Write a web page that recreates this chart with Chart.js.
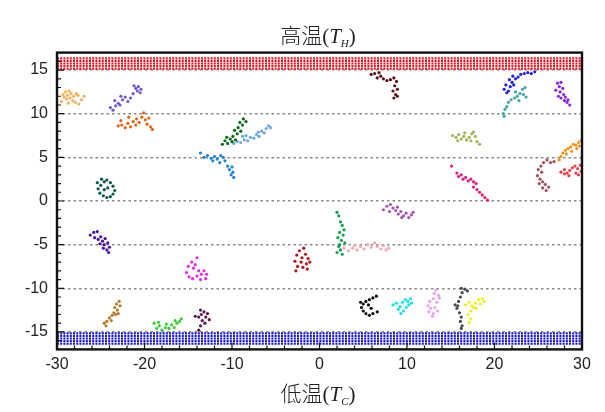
<!DOCTYPE html>
<html>
<head>
<meta charset="utf-8">
<script src="https://cdn.jsdelivr.net/npm/chart.js@4/dist/chart.umd.min.js"></script>
<style>
  html, body { margin: 0; padding: 0; background: #fff; }
  #wrap { position: relative; width: 605px; height: 412px; overflow: hidden; }
  #chart { position: absolute; left: 0; top: 0; }
  .axis-title {
    position: absolute; left: 218px; width: 200px; text-align: center;
    font-family: "Liberation Serif", "Noto Sans CJK SC", serif; font-size: 21px; color: #222;
    line-height: 24px;
  }
  .axis-title .cjk { font-family: "Noto Sans CJK SC", sans-serif; font-weight: 300; }
  .axis-title sub { font-size: 11px; font-style: italic; vertical-align: -4px; }
  #topTitle { top: 22px; }
  #bottomTitle { top: 380px; }
</style>
</head>
<body>
<div id="wrap">
  <canvas id="chart" width="605" height="412"></canvas>
  <div id="topTitle" class="axis-title"><span class="cjk">高温</span>(<i>T</i><sub>H</sub>)</div>
  <div id="bottomTitle" class="axis-title"><span class="cjk">低温</span>(<i>T</i><sub>C</sub>)</div>
</div>
<script>
// ===== DATA =====
const xTicks = [-30, -20, -10, 0, 10, 20, 30];
const yTicks = [-15, -10, -5, 0, 5, 10, 15];

// dotted bands (row heights)
const hotRows = [15.15, 15.45, 15.75, 16.05, 16.35];
const coldRows = [-15.15, -15.45, -15.75, -16.05, -16.35];

// walker trajectories, [x, y]
const tanWalk = [[-29.3,12.2],[-29.0,12.5],[-28.8,12.1],[-28.6,12.6],[-28.4,12.3],[-28.9,11.7],[-29.2,11.9],[-28.5,11.8],[-28.1,12.0],[-27.8,12.3],[-27.6,12.1],[-28.2,11.5],[-27.9,11.3],[-27.5,11.1],[-27.2,11.6],[-26.9,12.0],[-29.5,11.4],[-28.7,11.2]];
const slateWalk = [[-23.9,10.7],[-23.6,10.4],[-23.3,10.9],[-23.0,11.2],[-23.4,11.5],[-22.8,11.0],[-22.5,11.6],[-22.2,11.9],[-22.7,12.0],[-21.9,11.4],[-21.6,11.8],[-21.3,12.3],[-21.0,12.9],[-20.7,13.1],[-20.4,12.8],[-20.8,12.6],[-21.2,13.2],[-20.5,12.4]];
const orangeWalk = [[-23.0,8.6],[-22.6,8.7],[-22.7,9.2],[-22.2,8.4],[-21.9,8.9],[-21.6,8.5],[-21.3,9.1],[-21.0,8.7],[-20.9,9.4],[-20.6,9.0],[-20.3,9.6],[-20.1,10.1],[-19.9,9.3],[-19.7,8.8],[-19.5,9.5],[-19.3,8.5],[-19.1,8.2],[-21.8,9.6]];
const darkTealWalk = [[-24.9,2.5],[-24.6,2.2],[-24.3,2.4],[-23.9,2.1],[-23.6,1.7],[-23.4,1.2],[-23.6,0.8],[-23.9,0.5],[-24.3,0.4],[-24.7,0.6],[-25.1,0.9],[-25.3,1.4],[-25.0,1.8],[-24.6,1.3],[-24.2,1.5],[-25.4,2.1]];
const indigoWalk = [[-26.2,-3.9],[-25.8,-3.6],[-25.4,-3.5],[-25.7,-4.2],[-25.3,-4.4],[-25.0,-4.1],[-24.8,-4.6],[-24.5,-4.3],[-24.6,-5.0],[-24.2,-4.8],[-24.0,-5.3],[-24.3,-5.6],[-24.1,-5.9],[-24.7,-5.4],[-25.1,-4.9]];
const blueWalk = [[-13.6,5.5],[-13.2,5.0],[-12.8,5.2],[-12.4,4.9],[-12.0,5.1],[-11.7,4.8],[-11.3,5.2],[-11.0,5.0],[-10.8,4.6],[-11.4,4.4],[-10.5,4.0],[-10.3,3.6],[-10.0,3.9],[-9.9,3.3],[-10.1,3.0],[-9.8,2.7],[-12.2,4.6]];
const darkGreenWalk = [[-11.1,6.5],[-10.8,6.9],[-10.5,6.6],[-10.2,7.1],[-10.6,7.3],[-9.9,7.4],[-9.6,7.0],[-9.4,7.7],[-9.7,8.1],[-9.3,8.4],[-9.0,8.0],[-8.8,8.7],[-9.1,9.0],[-8.7,9.4],[-8.4,9.1],[-10.0,6.8]];
const skyWalk = [[-9.8,6.6],[-9.4,6.8],[-9.0,6.7],[-8.6,7.0],[-8.2,6.9],[-7.9,7.3],[-8.4,7.5],[-7.5,7.2],[-7.2,7.6],[-6.9,7.4],[-7.0,7.9],[-6.6,8.0],[-6.3,7.8],[-6.1,8.3],[-5.8,8.6],[-5.6,8.4],[-8.8,7.4]];
const magentaWalk = [[-14.0,-6.5],[-14.6,-7.0],[-15.0,-7.5],[-14.4,-7.7],[-15.2,-8.2],[-14.9,-8.7],[-14.5,-8.9],[-14.0,-8.6],[-13.8,-8.0],[-13.5,-8.4],[-13.2,-8.0],[-12.9,-8.4],[-13.0,-8.9],[-13.6,-9.0],[-14.2,-7.3]];
const ochreWalk = [[-22.9,-11.5],[-23.2,-11.8],[-22.8,-12.0],[-23.4,-12.2],[-23.1,-12.5],[-23.5,-12.8],[-23.7,-13.1],[-23.3,-13.0],[-24.0,-13.4],[-23.8,-13.7],[-24.3,-13.8],[-24.6,-14.0],[-24.4,-14.3],[-23.0,-12.9]];
const limeWalk = [[-18.9,-14.0],[-18.6,-14.6],[-18.3,-14.3],[-18.0,-14.8],[-17.6,-14.5],[-17.2,-14.6],[-16.9,-14.2],[-16.6,-14.5],[-16.3,-14.0],[-16.0,-13.8],[-15.8,-13.5],[-16.5,-13.7],[-17.5,-14.1],[-18.4,-13.9]];
const plumWalk = [[-13.6,-12.5],[-13.2,-12.7],[-12.8,-12.9],[-13.0,-13.3],[-13.5,-13.0],[-13.8,-13.3],[-14.2,-13.2],[-13.4,-13.7],[-13.1,-14.0],[-13.6,-14.3],[-13.8,-14.8],[-12.6,-13.6]];
const crimsonWalk = [[-1.8,-5.4],[-2.3,-5.7],[-1.6,-6.1],[-2.6,-6.2],[-2.0,-6.5],[-1.3,-6.6],[-2.8,-6.9],[-2.1,-7.0],[-1.5,-7.2],[-1.1,-7.0],[-2.5,-7.5],[-1.9,-7.6],[-2.7,-8.0],[-1.4,-7.8]];
const greenWalk = [[2.0,-1.3],[2.2,-1.7],[2.4,-2.4],[2.6,-2.8],[2.8,-3.3],[2.3,-3.6],[2.1,-4.2],[2.5,-4.5],[2.9,-4.8],[2.2,-5.2],[2.4,-5.6],[2.0,-5.9],[2.6,-6.1],[2.3,-5.0],[2.7,-3.9]];
const pinkWalk = [[2.8,-5.4],[3.3,-5.7],[3.8,-5.4],[4.3,-5.6],[4.7,-5.2],[5.1,-5.5],[5.5,-5.0],[5.9,-5.3],[6.3,-4.8],[6.6,-5.2],[7.0,-5.5],[7.3,-5.1],[7.6,-5.6],[7.9,-5.4],[4.0,-5.1]];
const orchidWalk = [[7.3,-1.0],[7.7,-0.6],[8.1,-0.4],[8.4,-0.8],[8.0,-1.2],[8.7,-1.1],[9.0,-1.5],[9.3,-1.2],[9.6,-1.7],[9.9,-1.4],[10.2,-1.9],[10.5,-1.6],[10.7,-1.3],[9.4,-1.9],[8.9,-0.7]];
const blackWalk = [[6.5,-10.9],[6.1,-11.1],[5.7,-11.3],[5.3,-11.5],[5.0,-11.8],[4.8,-12.2],[5.0,-12.6],[5.3,-12.9],[5.7,-13.1],[6.1,-12.9],[6.6,-12.7],[5.6,-11.9],[5.9,-12.3],[4.7,-11.6]];
const cyanWalk = [[8.4,-11.9],[8.8,-11.7],[9.2,-12.1],[9.5,-11.6],[9.8,-11.3],[10.1,-11.5],[10.4,-11.2],[10.2,-11.9],[9.9,-12.2],[9.6,-12.6],[9.3,-12.9],[9.0,-12.4],[10.5,-11.7]];
const lilacWalk = [[13.3,-10.2],[13.1,-10.6],[13.6,-10.8],[13.0,-11.2],[12.6,-11.5],[13.4,-11.6],[12.4,-12.0],[12.7,-12.3],[13.2,-12.2],[12.5,-12.7],[13.0,-12.9],[13.5,-12.6],[12.9,-13.2],[13.7,-11.1]];
const grayWalk = [[16.2,-10.0],[16.6,-10.1],[16.9,-10.3],[16.3,-10.5],[16.1,-11.0],[15.9,-11.5],[15.5,-11.9],[15.7,-12.3],[16.0,-12.8],[16.2,-13.3],[16.1,-13.8],[16.3,-14.3],[16.2,-14.6],[15.8,-12.0]];
const yellowWalk = [[16.7,-11.9],[17.1,-11.6],[17.4,-12.0],[17.8,-11.7],[18.2,-11.3],[18.6,-11.2],[18.4,-11.8],[17.9,-12.3],[17.3,-12.6],[17.0,-13.0],[17.3,-13.5],[17.1,-13.9],[18.8,-11.5],[17.6,-12.2]];
const maroonWalk = [[5.9,14.5],[6.3,14.6],[6.8,14.7],[7.0,14.3],[6.6,14.1],[7.3,14.0],[7.7,13.8],[8.1,13.9],[8.5,14.1],[8.8,13.7],[8.6,13.2],[8.9,12.8],[8.4,12.6],[8.7,12.2],[8.5,11.8],[8.9,12.0]];
const oliveWalk = [[15.2,7.5],[15.6,7.3],[15.9,7.6],[16.2,7.1],[16.5,7.4],[16.8,7.0],[17.1,7.3],[17.4,7.7],[17.6,7.9],[17.8,7.4],[17.3,6.9],[18.0,6.8],[18.3,6.5],[15.8,6.9],[16.6,7.8]];
const deepPinkWalk = [[15.1,4.0],[15.7,3.2],[15.9,2.8],[16.2,3.0],[16.4,2.5],[16.7,2.7],[17.0,2.3],[17.3,2.5],[17.6,2.2],[17.9,2.0],[17.6,1.6],[18.0,1.3],[18.3,1.0],[18.6,0.7],[18.9,0.4],[19.2,0.1]];
const royalWalk = [[21.1,12.8],[21.3,13.3],[21.6,12.6],[21.8,13.1],[22.0,13.6],[21.7,13.9],[22.2,13.3],[22.4,14.0],[22.1,14.3],[22.7,14.2],[23.0,14.5],[23.4,14.6],[23.8,14.7],[24.2,14.6],[24.6,14.8],[21.4,12.4]];
const tealWalk = [[21.0,10.0],[21.2,10.5],[21.4,10.8],[21.6,11.3],[21.9,11.6],[22.3,11.8],[22.6,12.0],[22.4,12.5],[22.9,12.3],[23.2,12.8],[23.5,13.0],[23.3,12.2],[23.6,11.9],[22.8,11.5],[21.1,9.7]];
const violetWalk = [[27.2,13.5],[27.6,13.6],[27.4,13.1],[27.0,12.7],[27.5,12.5],[27.8,12.9],[27.9,12.2],[27.6,11.8],[28.0,11.5],[28.3,11.3],[28.6,11.0],[28.4,11.6],[28.1,11.9],[27.3,12.0]];
const amberWalk = [[27.4,4.7],[27.6,5.1],[27.8,5.5],[28.1,5.8],[28.4,6.0],[28.2,5.4],[28.7,6.2],[29.0,6.5],[29.3,6.4],[29.6,6.7],[29.9,6.9],[29.4,6.0],[28.8,5.7],[29.7,6.3]];
const mauveWalk = [[25.6,4.4],[26.0,4.7],[26.4,4.4],[25.3,4.0],[25.0,3.6],[25.4,3.3],[24.9,2.9],[25.2,2.5],[25.5,2.2],[25.8,1.9],[25.5,1.5],[25.9,1.2],[26.2,1.6],[25.1,2.0],[26.8,4.5]];
const coralWalk = [[27.6,3.3],[28.0,3.6],[28.3,3.2],[28.6,3.5],[28.9,3.8],[29.2,4.0],[29.5,3.7],[29.8,4.1],[29.9,3.4],[29.6,3.0],[29.3,3.2],[28.5,2.9],[28.0,3.1]];

const walks = [
  [tanWalk, '#f2b05a'], [slateWalk, '#6a5acd'], [orangeWalk, '#e2661a'],
  [darkTealWalk, '#0b5a48'], [indigoWalk, '#4a14a0'], [blueWalk, '#1f7fdc'],
  [darkGreenWalk, '#0b6a14'], [skyWalk, '#6ea8e4'], [magentaWalk, '#e02ce0'],
  [ochreWalk, '#b97a28'], [limeWalk, '#3ccc3c'], [plumWalk, '#5a1650'],
  [crimsonWalk, '#b0101c'], [greenWalk, '#11a050'], [pinkWalk, '#f2a6b4'],
  [orchidWalk, '#a655b5'], [blackWalk, '#111111'], [cyanWalk, '#18e0e8'],
  [lilacWalk, '#f0a0f0'], [grayWalk, '#4a4a4a'], [yellowWalk, '#eeee20'],
  [maroonWalk, '#5a1014'], [oliveWalk, '#a4b45a'], [deepPinkWalk, '#e0207e'],
  [royalWalk, '#2424d8'], [tealWalk, '#40a8a8'], [violetWalk, '#8a2ae0'],
  [amberWalk, '#f09418'], [mauveWalk, '#a4505e'], [coralWalk, '#e8444e']
];

// ===== DATASETS =====
function bandRow(y, color) {
  return {
    data: [{ x: xTicks[0], y }, { x: xTicks[xTicks.length - 1], y }],
    showLine: true,
    borderColor: color,
    borderWidth: 2.2,
    borderDash: [2, 1.2],
    pointRadius: 0,
    order: 1
  };
}

const datasets = [];
hotRows.forEach(r => datasets.push(bandRow(r, '#e8101c')));
coldRows.forEach(r => datasets.push(bandRow(r, '#1414c8')));
walks.forEach(([pts, color]) => {
  datasets.push({
    data: pts.map(p => ({ x: p[0], y: p[1] })),
    backgroundColor: color,
    borderWidth: 0,
    pointRadius: 1.6,
    pointHoverRadius: 1.6,
    order: 2
  });
});

// frame + inward ticks
const framePlugin = {
  id: 'frame',
  afterDraw(chart) {
    const { ctx, chartArea: a, scales } = chart;
    const xs = scales.x, ys = scales.y;
    ctx.save();
    ctx.strokeStyle = '#111';
    ctx.lineWidth = 1.2;
    ctx.beginPath();
    // minor x every 2, minor y every 1
    for (let v = xs.min; v <= xs.max; v += 2) {
      const px = xs.getPixelForValue(v);
      const len = xTicks.includes(v) ? 7 : 4;
      ctx.moveTo(px, a.bottom); ctx.lineTo(px, a.bottom - len);
    }
    for (let v = Math.ceil(ys.min); v <= ys.max; v += 1) {
      const py = ys.getPixelForValue(v);
      const len = yTicks.includes(v) ? 7 : 4;
      ctx.moveTo(a.left, py); ctx.lineTo(a.left + len, py);
    }
    ctx.stroke();
    ctx.lineWidth = 2.4;
    ctx.strokeRect(a.left, a.top, a.right - a.left, a.bottom - a.top);
    ctx.restore();
  }
};

new Chart(document.getElementById('chart'), {
  type: 'scatter',
  data: { datasets },
  options: {
    responsive: false,
    animation: false,
    events: [],
    layout: { padding: { top: 52.6, left: 0, right: 23, bottom: 32.6 } },
    plugins: { legend: { display: false }, tooltip: { enabled: false } },
    scales: {
      x: {
        type: 'linear', min: -30, max: 30,
        afterBuildTicks: s => { s.ticks = xTicks.map(v => ({ value: v })); },
        afterFit: s => { s.height = 30; },
        grid: { display: false, drawTicks: false },
        border: { display: false },
        ticks: { color: '#222', padding: 6, font: { family: 'Liberation Sans', size: 16 }, maxRotation: 0 }
      },
      y: {
        type: 'linear', min: -17, max: 17,
        afterBuildTicks: s => { s.ticks = yTicks.map(v => ({ value: v })); },
        afterFit: s => { s.width = 57; },
        grid: { color: '#8a8a8a', lineWidth: 1.4, drawTicks: false },
        border: { display: false, dash: [2.5, 3] },
        ticks: { color: '#222', padding: 9, font: { family: 'Liberation Sans', size: 16 } }
      }
    }
  },
  plugins: [framePlugin]
});
</script>
</body>
</html>
